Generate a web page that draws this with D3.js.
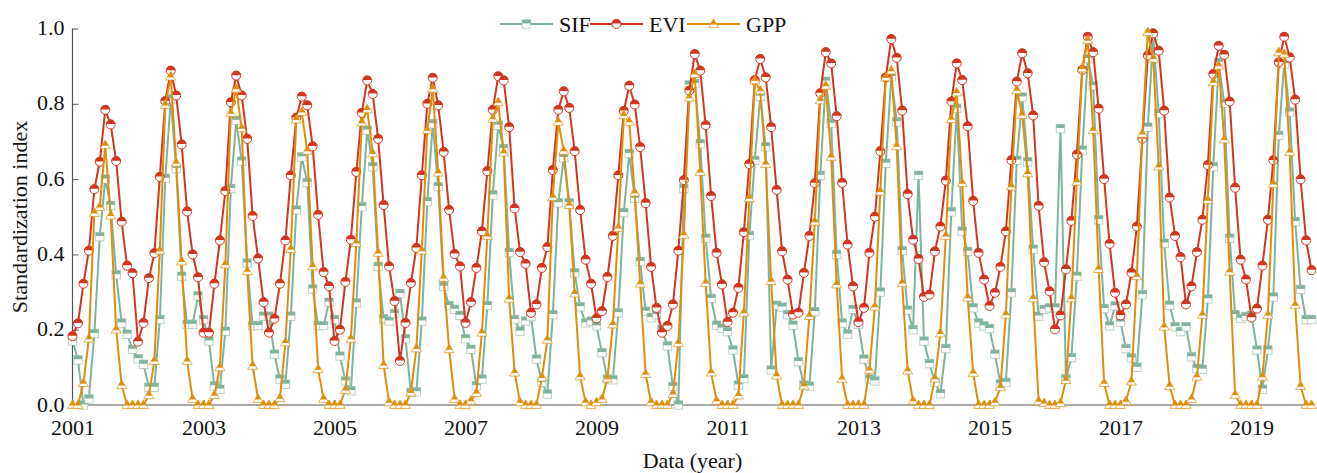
<!DOCTYPE html>
<html>
<head>
<meta charset="utf-8">
<script src="https://cdn.jsdelivr.net/npm/d3@7"></script>
<style>
  html, body { margin: 0; padding: 0; background: #ffffff; }
  svg { display: block; }
  text { font-family: "Liberation Serif", "Times New Roman", serif; fill: #111; }
</style>
</head>
<body>
<svg id="chart" width="1317" height="473"></svg>
<script>
// ---------------- data (monthly, Jan 2001 - Dec 2019) ----------------
const startYear = 2001;
const seriesNames = ["SIF", "EVI", "GPP"];
const xTickYears = [2001, 2003, 2005, 2007, 2009, 2011, 2013, 2015, 2017, 2019];
const yTicks = [0.0, 0.2, 0.4, 0.6, 0.8, 1.0];

const sif = [
  0.17, 0.12, 0.0, 0.016, 0.19, 0.447, 0.60, 0.53, 0.346, 0.218, 0.188, 0.148,
  0.123, 0.108, 0.047, 0.047, 0.227, 0.602, 0.813, 0.628, 0.342, 0.214, 0.214, 0.29,
  0.227, 0.17, 0.051, 0.042, 0.196, 0.575, 0.756, 0.648, 0.377, 0.211, 0.211, 0.236,
  0.236, 0.135, 0.069, 0.055, 0.236, 0.518, 0.659, 0.591, 0.308, 0.211, 0.211, 0.273,
  0.227, 0.13, 0.064, 0.038, 0.271, 0.527, 0.73, 0.633, 0.368, 0.229, 0.223, 0.243,
  0.296, 0.176, 0.033, 0.035, 0.223, 0.54, 0.747, 0.58, 0.315, 0.264, 0.254, 0.238,
  0.176, 0.148, 0.051, 0.069, 0.264, 0.558, 0.743, 0.681, 0.405, 0.227, 0.196, 0.223,
  0.235, 0.122, 0.06, 0.029, 0.24, 0.537, 0.657, 0.537, 0.351, 0.261, 0.218, 0.223,
  0.21, 0.139, 0.069, 0.067, 0.245, 0.511, 0.668, 0.549, 0.381, 0.249, 0.232, 0.24,
  0.2, 0.157, 0.049, 0.0, 0.575, 0.85, 0.854, 0.694, 0.443, 0.283, 0.212, 0.204,
  0.195, 0.146, 0.053, 0.07, 0.45, 0.65, 0.82, 0.686, 0.093, 0.265, 0.26, 0.24,
  0.212, 0.115, 0.053, 0.05, 0.248, 0.61, 0.86, 0.748, 0.40, 0.218, 0.188, 0.254,
  0.214, 0.122, 0.069, 0.064, 0.30, 0.642, 0.872, 0.752, 0.41, 0.252, 0.20, 0.61,
  0.17, 0.11, 0.06, 0.03, 0.15, 0.513, 0.788, 0.462, 0.408, 0.258, 0.218, 0.21,
  0.203, 0.135, 0.056, 0.06, 0.298, 0.65, 0.818, 0.646, 0.414, 0.236, 0.254, 0.258,
  0.258, 0.734, 0.07, 0.126, 0.342, 0.677, 0.92, 0.848, 0.492, 0.256, 0.21, 0.263,
  0.22, 0.15, 0.125, 0.10, 0.293, 0.738, 0.98, 0.774, 0.43, 0.265, 0.208, 0.195,
  0.208, 0.128, 0.097, 0.095, 0.282, 0.633, 0.91, 0.802, 0.443, 0.24, 0.23, 0.235,
  0.238, 0.146, 0.042, 0.146, 0.287, 0.716, 0.906, 0.778, 0.487, 0.307, 0.227, 0.227
];

const evi = [
  0.183, 0.217, 0.322, 0.41, 0.573, 0.646, 0.784, 0.745, 0.648, 0.487, 0.37, 0.35,
  0.168, 0.218, 0.337, 0.403, 0.606, 0.807, 0.888, 0.822, 0.692, 0.514, 0.40, 0.339,
  0.192, 0.192, 0.322, 0.437, 0.568, 0.804, 0.875, 0.822, 0.707, 0.502, 0.389, 0.273,
  0.192, 0.229, 0.322, 0.437, 0.61, 0.763, 0.819, 0.796, 0.687, 0.505, 0.353, 0.315,
  0.17, 0.20, 0.327, 0.439, 0.619, 0.776, 0.862, 0.826, 0.707, 0.531, 0.368, 0.276,
  0.117, 0.218, 0.324, 0.417, 0.61, 0.80, 0.869, 0.796, 0.672, 0.518, 0.401, 0.368,
  0.218, 0.273, 0.364, 0.461, 0.621, 0.784, 0.873, 0.862, 0.738, 0.522, 0.406, 0.375,
  0.245, 0.267, 0.364, 0.419, 0.624, 0.784, 0.833, 0.789, 0.674, 0.518, 0.386, 0.322,
  0.23, 0.249, 0.34, 0.449, 0.61, 0.781, 0.848, 0.798, 0.685, 0.536, 0.367, 0.258,
  0.192, 0.21, 0.267, 0.41, 0.597, 0.835, 0.932, 0.888, 0.743, 0.555, 0.404, 0.32,
  0.22, 0.245, 0.311, 0.459, 0.64, 0.863, 0.919, 0.87, 0.738, 0.571, 0.408, 0.333,
  0.24, 0.245, 0.351, 0.449, 0.589, 0.828, 0.937, 0.907, 0.767, 0.59, 0.426, 0.315,
  0.22, 0.258, 0.404, 0.5, 0.674, 0.87, 0.972, 0.922, 0.782, 0.56, 0.439, 0.388,
  0.287, 0.293, 0.408, 0.474, 0.596, 0.806, 0.907, 0.863, 0.74, 0.542, 0.404, 0.333,
  0.263, 0.298, 0.367, 0.461, 0.65, 0.859, 0.934, 0.881, 0.769, 0.529, 0.379, 0.302,
  0.201, 0.238, 0.36, 0.489, 0.665, 0.89, 0.978, 0.937, 0.787, 0.6, 0.428, 0.298,
  0.238, 0.267, 0.351, 0.474, 0.707, 0.928, 0.987, 0.941, 0.782, 0.551, 0.449, 0.393,
  0.267, 0.315, 0.406, 0.492, 0.637, 0.879, 0.954, 0.93, 0.806, 0.577, 0.386, 0.333,
  0.232, 0.256, 0.37, 0.492, 0.65, 0.91, 0.978, 0.923, 0.811, 0.599, 0.437, 0.358
];

const gpp = [
  0, 0, 0.058, 0.176, 0.51, 0.526, 0.69, 0.503, 0.2, 0.053, 0, 0,
  0, 0, 0.026, 0.117, 0.41, 0.797, 0.872, 0.643, 0.381, 0.117, 0.016, 0,
  0, 0, 0.026, 0.1, 0.373, 0.775, 0.84, 0.735, 0.355, 0.104, 0.016, 0,
  0, 0, 0.018, 0.166, 0.414, 0.758, 0.778, 0.675, 0.368, 0.095, 0.016, 0,
  0, 0, 0.04, 0.176, 0.43, 0.75, 0.785, 0.668, 0.404, 0.106, 0.007, 0,
  0, 0, 0.033, 0.15, 0.41, 0.73, 0.84, 0.617, 0.337, 0.148, 0.016, 0,
  0, 0.011, 0.032, 0.192, 0.449, 0.76, 0.804, 0.67, 0.282, 0.086, 0.007, 0,
  0, 0, 0.073, 0.173, 0.552, 0.752, 0.675, 0.531, 0.296, 0.076, 0.007, 0,
  0.007, 0.016, 0.07, 0.214, 0.47, 0.769, 0.752, 0.564, 0.322, 0.082, 0.007, 0,
  0, 0, 0.029, 0.164, 0.452, 0.816, 0.879, 0.619, 0.324, 0.086, 0.011, 0,
  0, 0, 0.025, 0.245, 0.549, 0.862, 0.835, 0.64, 0.329, 0.078, 0, 0,
  0, 0, 0.051, 0.236, 0.487, 0.809, 0.848, 0.659, 0.32, 0.069, 0, 0,
  0, 0, 0.093, 0.261, 0.567, 0.87, 0.888, 0.687, 0.324, 0.091, 0.011, 0,
  0, 0, 0.07, 0.19, 0.449, 0.759, 0.83, 0.589, 0.285, 0.085, 0, 0,
  0, 0.007, 0.047, 0.24, 0.58, 0.836, 0.77, 0.615, 0.283, 0.01, 0.005, 0,
  0, 0.005, 0.066, 0.283, 0.593, 0.894, 0.969, 0.73, 0.361, 0.058, 0, 0,
  0, 0.01, 0.062, 0.342, 0.72, 0.99, 0.92, 0.633, 0.208, 0.05, 0, 0,
  0, 0.016, 0.075, 0.239, 0.544, 0.857, 0.901, 0.705, 0.354, 0.027, 0, 0,
  0, 0, 0.075, 0.239, 0.587, 0.937, 0.932, 0.672, 0.265, 0.05, 0, 0
];

const colors = { SIF: "#7fb39b", EVI: "#d2361f", GPP: "#df8e0c" };
const seriesData = { SIF: sif, EVI: evi, GPP: gpp };
const markerShape = { SIF: "square", EVI: "circle", GPP: "triangle" };

// ---------------- layout ----------------
const W = 1317, H = 473;
const svg = d3.select("#chart");
svg.append("rect").attr("width", W).attr("height", H).attr("fill", "#fff");

const x = d3.scaleLinear().domain([2001, 2020]).range([72.5, 1317]);
const y = d3.scaleLinear().domain([0, 1]).range([405, 28.5]);
const xAt = i => x(startYear + i / 12);

// axes
const axisColor = "#555";
const xAxis = d3.axisBottom(x).tickValues(xTickYears).tickFormat(d3.format("d")).tickSize(-5).tickPadding(14);
const gx = svg.append("g").attr("transform", "translate(0,405)").call(xAxis);
gx.select(".domain").remove();
gx.append("line").attr("x1", 72.5).attr("x2", 1314).attr("y1", 0).attr("y2", 0)
  .attr("stroke", axisColor).attr("stroke-width", 1.2);
gx.selectAll(".tick line").attr("stroke", axisColor);
gx.selectAll(".tick text").attr("font-size", 22).attr("fill", "#111")
  .attr("font-family", "Liberation Serif, Times New Roman, serif");

const yAxis = d3.axisLeft(y).tickValues(yTicks).tickFormat(d3.format(".1f")).tickSize(-6).tickPadding(8);
const gy = svg.append("g").attr("transform", "translate(72.5,0)").call(yAxis);
gy.select(".domain").remove();
gy.append("line").attr("x1", 0).attr("x2", 0).attr("y1", y(1)).attr("y2", y(0))
  .attr("stroke", axisColor).attr("stroke-width", 1.2);
gy.selectAll(".tick line").attr("stroke", axisColor);
gy.selectAll(".tick text").attr("font-size", 22).attr("fill", "#111")
  .attr("font-family", "Liberation Serif, Times New Roman, serif").attr("dy", "0.28em");

// axis titles
svg.append("text").attr("x", 692.5).attr("y", 468).attr("text-anchor", "middle")
  .attr("font-size", 22).text("Data (year)");
svg.append("text").attr("transform", "translate(27,217) rotate(-90)").attr("text-anchor", "middle")
  .attr("font-size", 22).text("Standardization index");

// ---------------- markers ----------------
function drawMarker(g, shape, cx, cy, color) {
  const m = g.append("g").attr("transform", `translate(${cx},${cy})`);
  if (shape === "circle") {
    const r = 4.5;
    m.append("circle").attr("r", r).attr("fill", "#fff").attr("stroke", color).attr("stroke-width", 1);
    m.append("path").attr("d", `M${-r},-0.4 A${r},${r} 0 0 1 ${r},-0.4 Z`).attr("fill", color);
  } else if (shape === "square") {
    const s = 4.2;
    m.append("rect").attr("x", -s).attr("y", -s).attr("width", 2 * s).attr("height", 2 * s)
      .attr("fill", "#fff").attr("stroke", color).attr("stroke-width", 1).attr("stroke-opacity", 0.55);
    m.append("rect").attr("x", -s).attr("y", -s).attr("width", 2 * s).attr("height", s - 0.6).attr("fill", color);
  } else {
    const h = 8.5, w = 10;
    const top = -h * 0.6, bot = h * 0.4;
    m.append("path").attr("d", `M0,${top} L${w / 2},${bot} L${-w / 2},${bot} Z`)
      .attr("fill", "#fff").attr("stroke", color).attr("stroke-width", 1).attr("stroke-opacity", 0.7);
    const midY = 0.5;
    const frac = (midY - top) / (bot - top);
    m.append("path").attr("d", `M0,${top} L${frac * w / 2},${midY} L${-frac * w / 2},${midY} Z`).attr("fill", color);
  }
}

// ---------------- series ----------------
const line = d3.line().x((d, i) => xAt(i)).y(d => y(d));
seriesNames.forEach(name => {
  const g = svg.append("g").attr("class", "series-" + name);
  const data = seriesData[name];
  g.append("path").datum(data).attr("d", line).attr("fill", "none")
    .attr("stroke", colors[name]).attr("stroke-width", 2).attr("stroke-linejoin", "round");
  data.forEach((v, i) => drawMarker(g, markerShape[name], xAt(i), y(v), colors[name]));
});

// ---------------- legend ----------------
const legendItems = [
  { name: "SIF", x0: 500 },
  { name: "EVI", x0: 590 },
  { name: "GPP", x0: 687 }
];
const lg = svg.append("g");
legendItems.forEach(it => {
  const ly = 24;
  lg.append("line").attr("x1", it.x0).attr("x2", it.x0 + 53).attr("y1", ly).attr("y2", ly)
    .attr("stroke", colors[it.name]).attr("stroke-width", 2);
  drawMarker(lg, markerShape[it.name], it.x0 + 26.5, ly, colors[it.name]);
  lg.append("text").attr("x", it.x0 + 59).attr("y", ly + 8).attr("font-size", 22).text(it.name);
});
</script>
</body>
</html>
